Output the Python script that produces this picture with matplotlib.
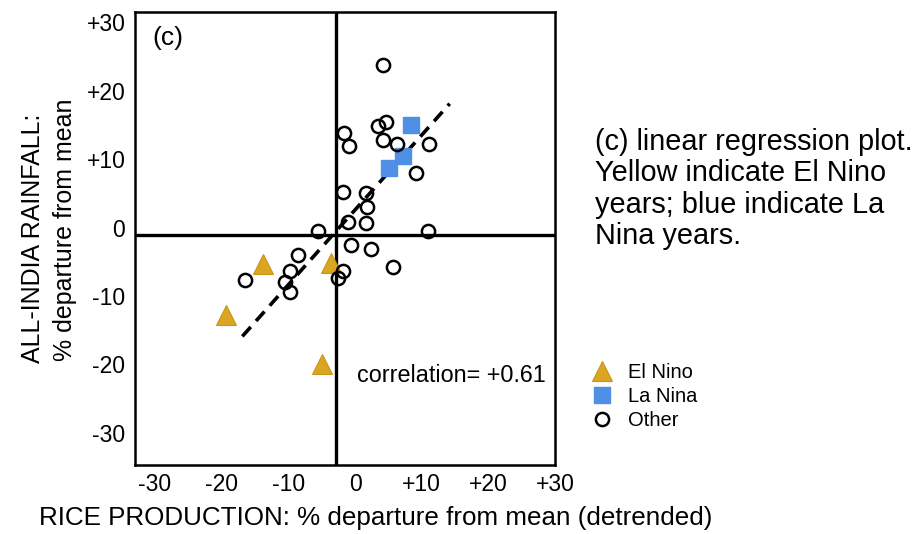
import numpy as np
import matplotlib.pyplot as plt

plt.rcParams['font.family'] = ['Liberation Sans', 'DejaVu Sans']

# % departure from mean
other_x = [4.2, 4.7, 3.4, -1.7, -0.9, 4.2, 6.3, 11.1, 9.1, -1.85, 1.6, 1.8, -1.0,
           1.7, -5.5, 11.0, -0.6, 2.45, -8.6, -9.8, -16.5, -10.5, -9.8, -1.85, -2.6, 5.7]
other_y = [23.7, 15.45, 14.8, 13.8, 11.9, 12.8, 12.2, 12.2, 8.0, 5.2, 5.1, 3.0, 0.85,
           0.7, -0.45, -0.5, -2.55, -3.1, -3.95, -6.35, -7.7, -8.0, -9.4, -6.4, -7.35, -5.8]
lanina_x = [8.45, 7.2, 5.15]
lanina_y = [15.05, 10.45, 8.65]
elnino_x = [-13.8, -3.65, -19.3, -5.0]
elnino_y = [-5.3, -5.15, -12.8, -19.9]
fit_x = [-16.9, 14.2]
fit_y = [-15.9, 18.1]
cross_x = -2.8
cross_y = -1.1

ticks = [-30, -20, -10, 0, 10, 20, 30]
tick_labels = ['-30', '-20', '-10', '0', '+10', '+20', '+30']

W, H = 923, 534
fig = plt.figure(figsize=(W / 100, H / 100), dpi=100)
ax = fig.add_axes([135 / W, 1 - 465 / H, 420 / W, 453 / H])

# quadrant lines + regression line
ax.axvline(cross_x, color='black', lw=2.4, zorder=1)
ax.axhline(cross_y, color='black', lw=2.4, zorder=1)
ax.plot(fit_x, fit_y, color='black', lw=2.6, ls=(0, (3.5, 2.2)), zorder=2)

h_el, = ax.plot(elnino_x, elnino_y, ls='none', marker='^', ms=14, color='#DAA520',
                mec='#C9961A', mew=0.8, zorder=3, label='El Nino')
h_la, = ax.plot(lanina_x, lanina_y, ls='none', marker='s', ms=11, color='#4F8FE6',
                mec='#4F8FE6', zorder=3, label='La Nina')
h_ot, = ax.plot(other_x, other_y, ls='none', marker='o', ms=9.5, mfc='none',
                mec='black', mew=1.8, zorder=4, label='Other')

ax.set_xlim(-33.0, 28.3)
ax.set_ylim(-34.7, 31.5)
ax.set_xticks(ticks)
ax.set_xticklabels(tick_labels)
ax.set_yticks(ticks)
ax.set_yticklabels(tick_labels)
ax.tick_params(length=0, labelsize=16.5)
ax.tick_params(axis='x', pad=6)
ax.tick_params(axis='y', pad=7)
for s in ax.spines.values():
    s.set_linewidth(1.8)

fig.text(152 / W, 1 - 38 / H, '(c)', fontsize=19, ha='left', va='center')
fig.text(357 / W, 1 - 376 / H, 'correlation= +0.61', fontsize=16.8,
         ha='left', va='center')

fig.text(376 / W, 1 - 518 / H, 'RICE PRODUCTION: % departure from mean (detrended)',
         fontsize=18.7, ha='center', va='center')
fig.text(33 / W, 1 - 238 / H, 'ALL-INDIA RAINFALL:', fontsize=18, rotation=90,
         ha='center', va='center')
fig.text(65 / W, 1 - 230 / H, '% departure from mean', fontsize=18, rotation=90,
         ha='center', va='center')

fig.text(595 / W, 1 - 189 / H,
         '(c) linear regression plot.\nYellow indicate El Nino\nyears; blue indicate La\nNina years.',
         fontsize=20.8, ha='left', va='center', linespacing=1.15)

fig.legend(handles=[h_el, h_la, h_ot], loc='upper left',
           bbox_to_anchor=(592 / W, 1 - 363 / H), frameon=False, fontsize=14.5,
           borderpad=0, borderaxespad=0, handlelength=1.0, handletextpad=0.8,
           labelspacing=0.25)

fig.savefig('out.png', dpi=100)
